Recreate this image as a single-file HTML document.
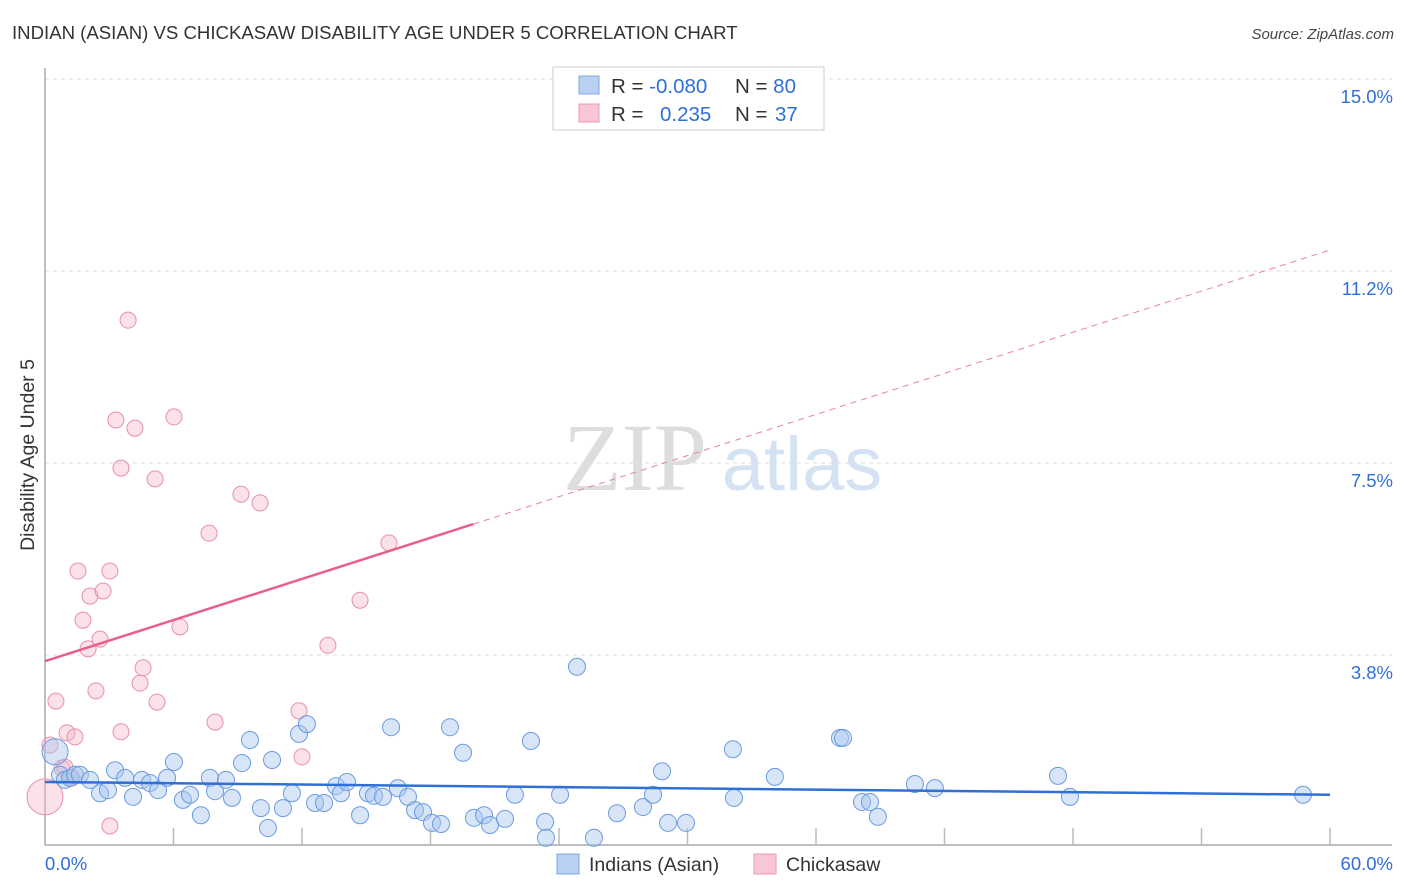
<!DOCTYPE html>
<html><head><meta charset="utf-8"><style>
body{margin:0;background:#fff;font-family:"Liberation Sans",sans-serif;}
svg{display:block}
</style></head><body>
<svg width="1406" height="892">
<text x="12" y="39" font-size="18.6" fill="#333">INDIAN (ASIAN) VS CHICKASAW DISABILITY AGE UNDER 5 CORRELATION CHART</text>
<text x="1394" y="39" font-size="15" fill="#444" font-style="italic" text-anchor="end">Source: ZipAtlas.com</text>
<text transform="translate(34,455) rotate(-90)" font-size="19.5" fill="#333" text-anchor="middle">Disability Age Under 5</text>
<text x="635" y="490" font-size="96" fill="#ddd" font-family="Liberation Serif,serif" text-anchor="middle">ZIP</text>
<text x="802" y="490" font-size="76" fill="#d4e2f4" text-anchor="middle">atlas</text>
<g id="grid"></g>
<g id="axes"></g>
<g id="pts"></g>
<g id="lines"></g>
<g>
<rect x="553" y="67" width="271" height="63" fill="#fff" stroke="#ccc"/>
<rect x="579" y="76" width="20" height="18" fill="#b8d1f2" stroke="#7ea8e0"/>
<rect x="579" y="104" width="20" height="18" fill="#f8c6d4" stroke="#eb9ab3"/>
<text x="611" y="93" font-size="20.5" fill="#333">R = <tspan fill="#2f6fd6">-0.080</tspan><tspan x="735">N = </tspan><tspan fill="#2f6fd6">80</tspan></text>
<text x="611" y="121" font-size="20.5" fill="#333">R = <tspan x="660" fill="#2f6fd6">0.235</tspan><tspan x="735">N = </tspan><tspan x="775" fill="#2f6fd6">37</tspan></text>
</g>
<g>
<rect x="557" y="854" width="22" height="20" fill="#b8d1f2" stroke="#7ea8e0"/>
<text x="589" y="871" font-size="19.5" fill="#333">Indians (Asian)</text>
<rect x="754" y="854" width="22" height="20" fill="#f8c6d4" stroke="#eb9ab3"/>
<text x="786" y="871" font-size="19.5" fill="#333">Chickasaw</text>
</g>
</svg>
<script>
const blueX=[0.47,0.70,0.93,1.17,1.40,1.63,2.10,2.57,2.94,3.27,3.74,4.11,4.53,4.90,5.28,5.70,6.02,6.44,6.77,7.28,7.70,7.94,8.45,8.73,9.20,9.57,10.08,10.41,10.60,11.11,11.53,11.86,12.23,12.61,13.03,13.59,13.82,14.10,14.71,15.08,15.36,15.78,16.16,16.48,16.95,17.28,17.65,18.07,18.49,18.91,19.52,20.03,20.50,20.78,21.48,21.94,22.69,23.35,23.39,24.05,24.84,25.63,26.71,27.92,28.39,28.81,29.09,29.93,32.12,32.17,34.08,37.12,37.26,38.15,38.52,38.89,40.62,41.55,47.30,47.86,58.74];
const blueY=[1.86,1.41,1.31,1.35,1.41,1.41,1.31,1.05,1.11,1.50,1.35,0.98,1.31,1.25,1.11,1.35,1.66,0.92,1.02,0.62,1.35,1.09,1.31,0.96,1.64,2.09,0.76,0.37,1.70,0.76,1.05,2.21,2.40,0.86,0.86,1.19,1.05,1.27,0.62,1.05,1.00,0.98,2.34,1.15,0.98,0.72,0.68,0.47,0.45,2.34,1.84,0.57,0.62,0.43,0.55,1.02,2.07,0.49,0.18,1.02,3.52,0.18,0.66,0.78,1.02,1.48,0.47,0.47,1.91,0.96,1.37,2.13,2.13,0.88,0.88,0.59,1.23,1.15,1.39,0.98,1.02];
const pinkX=[0,0.23,0.51,0.79,0.93,1.03,1.26,1.40,1.54,1.77,2.01,2.10,2.38,2.57,2.71,3.03,3.03,3.31,3.55,3.55,3.88,4.20,4.44,4.58,5.14,5.23,6.02,6.30,7.66,7.94,9.15,10.04,11.86,12.00,13.21,14.71,16.06];
const pinkY=[0.98,1.99,2.85,1.54,1.56,2.23,1.35,2.15,5.39,4.43,3.87,4.90,3.05,4.06,5.00,5.39,0.41,8.34,2.25,7.40,10.29,8.18,3.20,3.50,7.19,2.83,8.40,4.30,6.13,2.44,6.89,6.72,2.66,1.76,3.94,4.82,5.94];
const yTicks=[3.75,7.5,11.25,15];
const yTickLabels=["3.8%","7.5%","11.2%","15.0%"];
const xTicks=[0,6,12,18,24,30,36,42,48,54,60];
const blueTrend=[1.27,1.02];
const pinkTrend=[3.63,11.66];
const pinkSolidEnd=20;
const X=v=>45+v/60*1285, Y=v=>847-v/15*768;
const NS="http://www.w3.org/2000/svg";
function mk(t,a,p){const e=document.createElementNS(NS,t);for(const k in a)e.setAttribute(k,a[k]);p.appendChild(e);return e;}
const grid=document.getElementById('grid'),axes=document.getElementById('axes'),pts=document.getElementById('pts'),lines=document.getElementById('lines');
yTicks.forEach((v,i)=>{
 const l=mk('line',{x1:45,x2:1392,y1:Y(v),y2:Y(v),stroke:'#ddd','stroke-dasharray':'4,4'},grid);
 
 
 const t=mk('text',{x:1393,y:Y(v)+24,'font-size':18.5,fill:'#2f6fd6','text-anchor':'end'},grid);
 t.textContent=yTickLabels[i];
 
 
});
const ax=mk('path',{d:'M45 68V845H1392',fill:'none',stroke:'#aaa','stroke-width':1.5},axes);


xTicks.forEach(v=>{if(v===0)return;const t=mk('line',{x1:X(v),x2:X(v),y1:828,y2:845,stroke:'#bbb','stroke-width':1.5},axes);
 
 });
const xl=mk('text',{x:45,y:870,'font-size':18.5,fill:'#2f6fd6'},axes);xl.textContent='0.0%';


const xr=mk('text',{x:1393,y:870,'font-size':18.5,fill:'#2f6fd6','text-anchor':'end'},axes);xr.textContent='60.0%';


pinkX.forEach((v,i)=>{const c=mk('circle',{cx:X(v),cy:Y(pinkY[i]),r:i===0?18:8,fill:'#f6b6c9','fill-opacity':0.4,stroke:'#e98fab','stroke-width':1},pts);
 
 });
blueX.forEach((v,i)=>{const c=mk('circle',{cx:X(v),cy:Y(blueY[i]),r:i===0?13:8.5,fill:'#a9c6ee','fill-opacity':0.45,stroke:'#6a9be0','stroke-width':1},pts);
 
 });
const bl=mk('line',{x1:X(0),y1:Y(blueTrend[0]),x2:X(60),y2:Y(blueTrend[1]),stroke:'#2f6fd6','stroke-width':2.5},lines);


const pAt=v=>pinkTrend[0]+(pinkTrend[1]-pinkTrend[0])*v/60;
const ps=mk('line',{x1:X(0),y1:Y(pAt(0)),x2:X(pinkSolidEnd),y2:Y(pAt(pinkSolidEnd)),stroke:'#e8608a','stroke-width':2.5},lines);


const pd=mk('line',{x1:X(pinkSolidEnd),y1:Y(pAt(pinkSolidEnd)),x2:X(60),y2:Y(pAt(60)),stroke:'#e8809f','stroke-width':1,'stroke-dasharray':'6,5'},lines);


</script>
</body></html>
